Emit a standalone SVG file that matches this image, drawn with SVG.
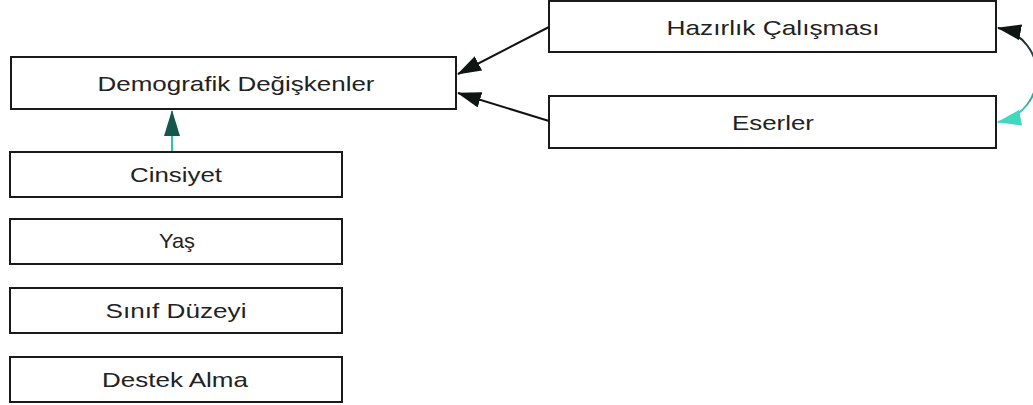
<svg xmlns="http://www.w3.org/2000/svg" width="1033" height="405" viewBox="0 0 1033 405">
<style>
.box{fill:#fff;stroke:#1a1a1a;stroke-width:2}
.lbl{font-family:"Liberation Sans",Arial,sans-serif;font-size:21px;fill:#222;text-anchor:middle;dominant-baseline:central}
.edge{fill:none;stroke:#111;stroke-width:2}
</style>
<defs>
<linearGradient id="arcg" gradientUnits="userSpaceOnUse" x1="0" y1="30" x2="0" y2="120">
<stop offset="0" stop-color="#111"/><stop offset="0.5" stop-color="#2a7a70"/><stop offset="1" stop-color="#3ed9c0"/>
</linearGradient>
<marker id="ah" markerWidth="24" markerHeight="16" refX="23" refY="8" orient="auto-start-reverse" markerUnits="userSpaceOnUse">
<path d="M0,0 L24,8 L0,16 Z" fill="#0e1613"/>
</marker>
<marker id="ahUp" markerWidth="26" markerHeight="16" refX="25" refY="8" orient="auto" markerUnits="userSpaceOnUse">
<path d="M0,0 L26,8 L0,16 Z" fill="#16574c"/>
</marker>
<marker id="ahTeal" markerWidth="24" markerHeight="16" refX="23" refY="8" orient="auto" markerUnits="userSpaceOnUse">
<path d="M0,0 L24,8 L0,16 Z" fill="#3ed9c0"/>
</marker>
</defs>
<g id="connectors">
<line class="edge" x1="549" y1="27" x2="458" y2="74" marker-end="url(#ah)"/>
<line class="edge" x1="549" y1="121" x2="458" y2="93" marker-end="url(#ah)"/>
<line class="edge" x1="172" y1="152" x2="172" y2="111" style="stroke:#2ec4b0" marker-end="url(#ahUp)"/>
<path class="edge" d="M998,28 C1050,38 1050,112 998,122" style="stroke:url(#arcg)" marker-start="url(#ah)" marker-end="url(#ahTeal)"/>
</g>
<g id="demografik"><rect class="box" x="11" y="57" width="445" height="52"/><text class="lbl" x="236" y="83" textLength="277" lengthAdjust="spacingAndGlyphs">Demografik Değişkenler</text></g>
<g id="hazirlik"><rect class="box" x="549" y="1" width="447" height="51"/><text class="lbl" x="773" y="27" textLength="213" lengthAdjust="spacingAndGlyphs">Hazırlık Çalışması</text></g>
<g id="eserler"><rect class="box" x="549" y="96" width="447" height="52"/><text class="lbl" x="773" y="122" textLength="82" lengthAdjust="spacingAndGlyphs">Eserler</text></g>
<g id="cinsiyet"><rect class="box" x="10" y="152" width="332" height="45"/><text class="lbl" x="176" y="174" textLength="92" lengthAdjust="spacingAndGlyphs">Cinsiyet</text></g>
<g id="yas"><rect class="box" x="10" y="219" width="332" height="45"/><text class="lbl" x="177" y="240" textLength="36" lengthAdjust="spacingAndGlyphs">Yaş</text></g>
<g id="sinif"><rect class="box" x="10" y="288" width="332" height="45"/><text class="lbl" x="176" y="310" textLength="141" lengthAdjust="spacingAndGlyphs">Sınıf Düzeyi</text></g>
<g id="destek"><rect class="box" x="10" y="357" width="332" height="45"/><text class="lbl" x="175" y="379" textLength="146" lengthAdjust="spacingAndGlyphs">Destek Alma</text></g>
</svg>
